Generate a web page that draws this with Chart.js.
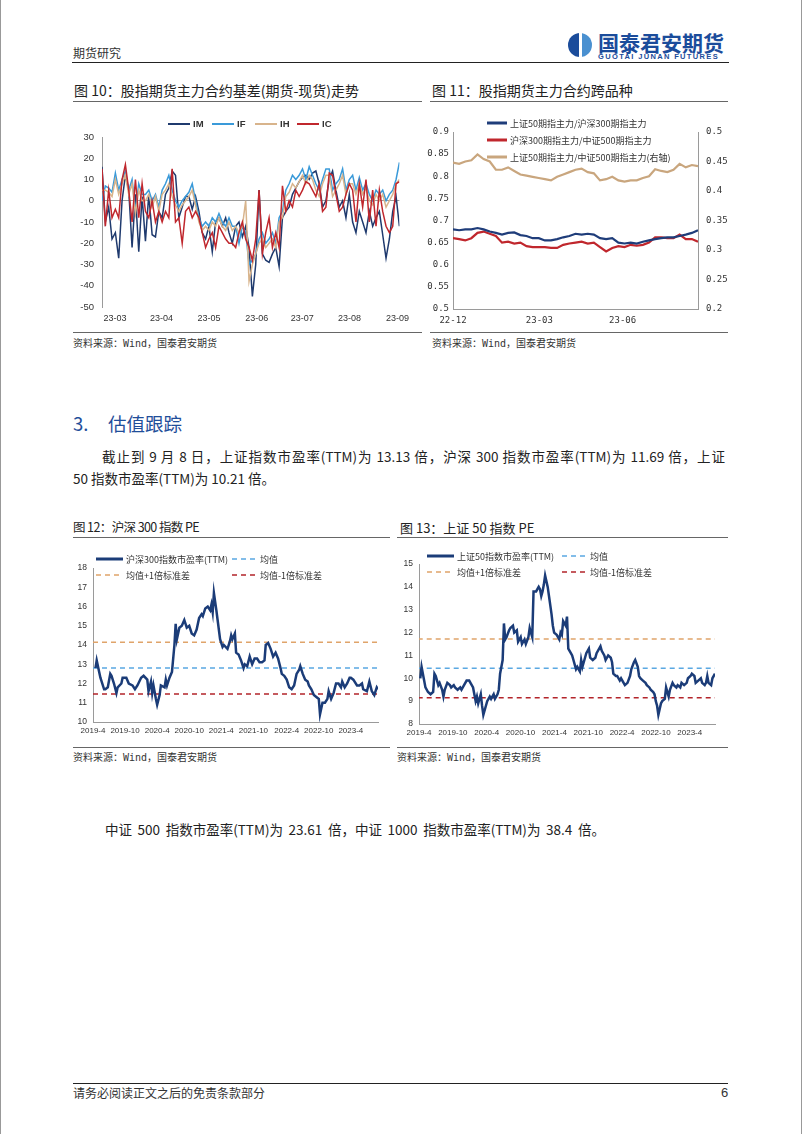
<!DOCTYPE html>
<html>
<head>
<meta charset="utf-8">
<script src="https://cdn.jsdelivr.net/npm/chart.js@4.4.0/dist/chart.umd.min.js"></script>
<style>
    body { margin: 0; background: #fff; }
    #page { position: relative; width: 800px; height: 1134px; overflow: hidden; font-family: "Noto Sans CJK SC", sans-serif; color: #222; border-left: 1px solid #999; border-right: 1px solid #999; }
    .t { position: absolute; white-space: nowrap; line-height: 1; }
    .rule { position: absolute; height: 0; border-top: 1.5px solid #666; }
    canvas { position: absolute; }
    .mono { font-family: "DejaVu Sans Mono", "Noto Sans CJK SC", monospace; }
</style>
</head>
<body>
<div id="page">
    <div class="t" style="left:72px;top:47px;font-size:12px;color:#333;">期货研究</div>
    <div style="position:absolute;left:567px;top:33px;width:24px;height:24px;border-radius:50%;background:linear-gradient(90deg,#1b4c9b 0 44%,#fff 44% 58%,#4a90d0 58%);"></div>
    <div class="t" style="left:597px;top:32px;font-size:21px;font-weight:bold;color:#1b4c9b;">国泰君安期货</div>
    <div class="t" style="left:597px;top:53px;font-size:7.5px;letter-spacing:1.35px;color:#1b4c9b;font-family:'Liberation Sans';font-weight:bold;">GUOTAI JUNAN FUTURES</div>
    <div class="rule" style="left:71px;top:62px;width:657px;border-top:1.5px solid #222;"></div>

    <div class="t" style="left:73px;top:83px;font-size:14px;">图 10：股指期货主力合约基差(期货-现货)走势</div>
    <div class="rule" style="left:72px;top:101px;width:349px;"></div>
    <div class="t" style="left:431px;top:83px;font-size:14px;">图 11：股指期货主力合约跨品种</div>
    <div class="rule" style="left:429px;top:101px;width:298px;"></div>

    <canvas id="basisChart" width="345" height="225" style="left:69px;top:105px;"></canvas>
    <canvas id="spreadChart" width="305" height="225" style="left:424px;top:105px;"></canvas>

    <div class="rule" style="left:72px;top:332px;width:349px;"></div>
    <div class="rule" style="left:429px;top:332px;width:298px;"></div>
    <div class="t mono" style="left:72px;top:339px;font-size:10px;color:#333;">资料来源：Wind，国泰君安期货</div>
    <div class="t mono" style="left:431px;top:339px;font-size:10px;color:#333;">资料来源：Wind，国泰君安期货</div>

    <div class="t" style="left:72px;top:414px;font-size:18.5px;color:#1f4e9a;">3.</div>
    <div class="t" style="left:107px;top:414px;font-size:18.5px;color:#1f4e9a;">估值跟踪</div>
    <div class="t" style="left:101px;top:450px;width:623px;font-size:13.5px;text-align:justify;text-align-last:justify;">截止到 9 月 8 日，上证指数市盈率(TTM)为 13.13 倍，沪深 300 指数市盈率(TTM)为 11.69 倍，上证</div>
    <div class="t" style="left:72px;top:472px;font-size:13.5px;">50 指数市盈率(TTM)为 10.21 倍。</div>

    <div class="t" style="left:72px;top:521px;font-size:12.5px;letter-spacing:-0.6px;">图 12：沪深 300 指数 PE</div>
    <div class="rule" style="left:72px;top:537px;width:317px;"></div>
    <div class="t" style="left:399px;top:521px;font-size:13px;">图 13：上证 50 指数 PE</div>
    <div class="rule" style="left:396px;top:537px;width:331px;"></div>

    <canvas id="pe300Chart" width="320" height="197" style="left:69px;top:548px;"></canvas>
    <canvas id="pe50Chart" width="335" height="197" style="left:394px;top:548px;"></canvas>

    <div class="rule" style="left:72px;top:747px;width:317px;"></div>
    <div class="rule" style="left:396px;top:747px;width:331px;"></div>
    <div class="t mono" style="left:72px;top:753px;font-size:10px;color:#333;">资料来源：Wind，国泰君安期货</div>
    <div class="t mono" style="left:396px;top:753px;font-size:10px;color:#333;">资料来源：Wind，国泰君安期货</div>

    <div class="t" style="left:104px;top:823px;font-size:13.5px;word-spacing:2.6px;">中证 500 指数市盈率(TTM)为 23.61 倍，中证 1000 指数市盈率(TTM)为 38.4 倍。</div>

    <div class="rule" style="left:72px;top:1083px;width:655px;border-top:1.5px solid #222;"></div>
    <div class="t" style="left:72px;top:1087px;font-size:12px;color:#333;">请务必阅读正文之后的免责条款部分</div>
    <div class="t" style="left:720px;top:1086px;font-size:13px;color:#333;font-family:'Liberation Sans';">6</div>
</div>

<script>
// 图10 基差
const basisTickLabels = ['23-03', '23-04', '23-05', '23-06', '23-07', '23-08', '23-09'];
const basisTickPos = [3.9, 17.8, 32, 46.3, 59.9, 74.1, 88.4];
const imData = [16, -10, -3, -18, -15, -27, 0, 12, 5, -22, 3, -24, 2, -19, 3, -16, -17, -5, -8, 3,
    6, 14, 12, -8, -3, 2, 2, -4, 2, -5, -15, -18, -12, -24, -10, -8, -12, -8, -15, -20,
    -12, -10, -17, -12, -22, -45, -30, 5, -25, -28, -29, -25, -22, -31, -8, -5, -3, 3, 6, 9,
    11, 12, 10, 13, 14, 8, -3, 0, 10, 14, 5, -3, 0, -8, 3, -10, -15, -5, -10, -15,
    -5, -12, -8, -5, -16, -27, -18, -5, 2, -12];
const ifData = [0, 7, 6, 4, 13, 5, 10, 14, 5, 10, -5, 8, 3, 3, 5, 0, 3, -3, 5, 8,
    12, 5, 0, -3, 0, 2, 4, 8, 0, -8, -12, -10, -12, -8, -10, -6, -10, -12, -8, -12,
    -12, -20, -12, -15, -30, -28, -25, -18, -15, -20, -18, -15, -20, -8, -5, 5, 8, 12, 10, 12,
    15, 10, 16, 12, 8, 5, 10, 15, 15, 5, 8, 10, 15, 5, 10, 12, 5, 11, 5, 8,
    3, 0, 5, 3, 5, 0, 3, 5, 10, 18];
const ihData = [5, 5, 4, 2, 10, 3, 8, 12, 3, 8, -6, 5, 0, 0, 3, -3, 2, -5, 3, 5,
    8, 2, -2, -5, -2, 0, 2, 5, -2, -10, -14, -12, -14, -10, -12, -8, -12, -14, -10, -14,
    -12, -15, -12, 0, -38, -30, -25, -20, -18, -22, -20, -18, -22, -10, -8, 2, 4, 8, 6, 9,
    12, 8, 12, 10, 5, 2, 8, 12, 12, 2, 5, 8, 12, 3, 8, 8, 3, 8, 3, 6,
    0, -2, 3, 0, 3, -3, 0, 3, 8, 10];
const icData = [15, -12, 5, -8, -4, -8, 10, 17, 5, -10, 10, -8, 8, -5, -8, 0, -10, -5, -10, -5,
    -8, 15, -10, -8, -20, -5, -3, -8, -5, -8, -15, -22, -18, -15, -22, -12, -15, -18, -20, -20,
    -22, -15, -10, -18, -22, -28, -18, 5, -25, -15, -8, -22, -15, -22, 7, -5, 0, -3, 5, 2,
    5, 9, 8, 5, 2, 8, -5, -3, 13, 12, 3, -5, -3, 3, 8, 5, -10, 8, -3, 10,
    -10, 5, -12, 5, -5, -12, -15, -12, 8, 9];

// 图11 跨品种
const spreadTickLabels = ['22-12', '23-03', '23-06'];
const spreadTickPos = [0, 14.1, 27.7];
const sz50ToHs300 = [0.680, 0.678, 0.680, 0.680, 0.683, 0.680, 0.675, 0.672, 0.668, 0.672, 0.673, 0.667, 0.665, 0.660,
    0.660, 0.655, 0.655, 0.658, 0.662, 0.665, 0.670, 0.668, 0.670, 0.668, 0.660, 0.658, 0.660, 0.650,
    0.648, 0.650, 0.648, 0.652, 0.655, 0.658, 0.660, 0.662, 0.662, 0.665, 0.668, 0.672, 0.678];
const hs300ToZz500 = [0.660, 0.658, 0.655, 0.660, 0.672, 0.675, 0.670, 0.665, 0.650, 0.652, 0.648, 0.650, 0.642, 0.640,
    0.640, 0.640, 0.638, 0.638, 0.645, 0.648, 0.650, 0.652, 0.648, 0.650, 0.640, 0.630, 0.638, 0.642,
    0.640, 0.645, 0.643, 0.645, 0.650, 0.662, 0.662, 0.660, 0.660, 0.668, 0.658, 0.658, 0.652];
const sz50ToZz500 = [0.448, 0.446, 0.450, 0.452, 0.462, 0.454, 0.450, 0.436, 0.436, 0.440, 0.434, 0.428, 0.426, 0.424,
    0.422, 0.420, 0.418, 0.424, 0.428, 0.432, 0.436, 0.438, 0.432, 0.430, 0.418, 0.420, 0.424, 0.418,
    0.416, 0.418, 0.418, 0.422, 0.425, 0.437, 0.434, 0.432, 0.436, 0.446, 0.440, 0.444, 0.442];

// 图12/13 PE (x = 自2019-4起的周数)
const peTickLabels = ['2019-4', '2019-10', '2020-4', '2020-10', '2021-4', '2021-10', '2022-4', '2022-10', '2023-4'];
const peWeekRange = [0, 231];

const pe300TickWeeks = [0, 26, 52, 78, 104, 130, 157, 183, 209];
const pe300Weeks = [2, 3, 5, 6, 9, 10, 12, 14, 15, 17, 19, 20, 23, 24, 27, 29, 32, 34, 36, 39,
    41, 44, 45, 47, 48, 49, 51, 52, 54, 55, 58, 59, 60, 62, 64, 66, 67, 68, 70, 72,
    74, 76, 78, 80, 82, 84, 86, 88, 89, 91, 93, 95, 96, 97, 98, 100, 101, 103, 105, 106,
    109, 111, 112, 113, 115, 116, 118, 120, 122, 123, 125, 127, 129, 131, 133, 135, 137, 139, 140, 142,
    144, 146, 148, 150, 152, 153, 155, 157, 159, 161, 163, 165, 167, 168, 170, 172, 174, 175, 177, 179,
    181, 183, 184, 186, 188, 190, 191, 193, 195, 197, 199, 201, 202, 204, 206, 208, 209, 211, 214, 216,
    218, 219, 222, 224, 226, 227, 228, 230, 231];
const pe300Values = [12.8, 13.2, 12.6, 12.3, 11.7, 11.7, 11.8, 12.5, 12.4, 12.0, 11.5, 11.8, 12.0, 12.3, 12.3, 12.0, 11.9, 11.7, 11.9, 12.3,
    12.4, 12.2, 11.6, 12.1, 11.5, 11.9, 11.2, 10.9, 11.4, 11.9, 11.8, 12.2, 11.9, 12.3, 12.6, 14.0, 15.1, 14.3, 14.9, 15.0,
    15.3, 14.9, 15.0, 14.6, 14.5, 14.8, 15.4, 15.6, 15.5, 15.9, 16.0, 15.8, 16.1, 15.7, 16.7, 15.8, 15.3, 14.3, 13.9, 14.0,
    13.8, 14.2, 14.5, 14.3, 14.6, 13.6, 13.5, 13.2, 12.8, 13.0, 12.9, 13.4, 13.0, 13.3, 13.3, 13.1, 13.1, 13.2, 14.0, 14.1,
    13.8, 13.4, 13.6, 13.3, 12.8, 12.5, 12.4, 12.2, 11.8, 11.7, 11.9, 12.5, 12.7, 12.9, 12.5, 12.2, 12.1, 11.9, 11.7, 11.4,
    11.3, 11.2, 10.4, 11.0, 11.0, 11.2, 11.6, 11.2, 11.5, 12.0, 12.0, 11.8, 12.1, 11.8, 12.0, 12.3, 12.3, 12.2, 11.9, 11.9,
    12.0, 11.7, 11.6, 12.1, 11.6, 11.5, 11.4, 11.8, 11.7];
const pe300Mean = 12.8;
const pe300Upper = 14.14;
const pe300Lower = 11.46;

const pe50TickWeeks = [1, 27.3, 53.6, 79.9, 106.2, 132.5, 158.8, 185.1, 211.4];
const pe50Weeks = [2, 3, 5, 6, 8, 10, 12, 13, 14, 16, 17, 19, 20, 21, 23, 25, 26, 28, 29, 31,
    33, 34, 36, 38, 40, 41, 43, 44, 45, 46, 47, 49, 50, 51, 53, 54, 56, 57, 59, 60,
    62, 63, 64, 66, 67, 68, 69, 71, 72, 74, 75, 77, 78, 80, 81, 83, 84, 86, 87, 88,
    89, 90, 92, 94, 95, 96, 97, 98, 99, 101, 102, 103, 104, 105, 106, 108, 110, 111, 112, 113,
    115, 116, 117, 119, 120, 121, 123, 124, 126, 127, 128, 130, 131, 133, 134, 136, 138, 139, 141, 142,
    143, 145, 146, 148, 150, 151, 152, 154, 155, 157, 158, 160, 161, 163, 165, 166, 168, 169, 171, 172,
    173, 175, 177, 178, 180, 181, 183, 184, 185, 186, 187, 189, 190, 192, 193, 195, 196, 198, 199, 201,
    202, 204, 205, 207, 209, 210, 212, 213, 215, 216, 218, 220, 221, 223, 224, 225, 226, 228, 229, 231];
const pe50Values = [10.0, 10.5, 9.9, 9.6, 9.4, 9.3, 9.4, 10.2, 10.1, 9.7, 9.8, 9.5, 9.2, 9.5, 9.8, 9.7, 9.6, 9.7, 9.6, 9.5,
    9.6, 9.5, 9.7, 9.9, 9.9, 9.8, 9.6, 9.3, 9.0, 9.2, 8.9, 9.3, 8.8, 8.4, 8.8, 9.0, 9.2, 9.1, 9.3, 9.1,
    9.3, 9.5, 10.2, 10.8, 12.4, 11.7, 11.8, 12.1, 12.2, 12.3, 12.0, 12.1, 11.6, 11.8, 11.5, 11.7, 11.5, 11.8, 12.2, 12.0,
    11.8, 13.8, 13.8, 14.0, 13.9, 13.6, 13.8, 14.1, 14.5, 14.0, 13.6, 13.2, 12.8, 12.3, 12.0, 11.9, 11.7, 12.0, 11.9, 12.5,
    12.3, 12.7, 11.3, 11.1, 11.0, 10.8, 10.4, 10.5, 10.3, 10.8, 10.5, 10.9, 11.1, 11.3, 10.9, 10.8, 10.9, 11.1, 11.3, 11.4,
    11.2, 11.0, 10.8, 11.0, 10.9, 10.7, 10.2, 10.1, 10.1, 9.9, 10.0, 9.8, 9.7, 9.8, 10.1, 10.4, 10.7, 10.8, 10.5, 10.1,
    10.0, 9.9, 9.8, 9.7, 9.6, 9.5, 9.4, 9.3, 9.0, 8.8, 8.4, 8.9, 9.0, 9.1, 9.6, 9.2, 9.5, 9.8, 9.7, 9.6,
    9.7, 9.6, 9.8, 9.7, 9.8, 10.0, 10.1, 10.2, 10.1, 9.8, 9.9, 10.0, 9.8, 9.7, 9.8, 10.1, 9.8, 9.7, 10.0, 10.2];
const pe50Mean = 10.44;
const pe50Upper = 11.72;
const pe50Lower = 9.15;

Chart.defaults.font.family = "'Liberation Sans', Arial, sans-serif";
Chart.defaults.color = '#333';
Chart.defaults.animation = false;

const cjkFont = "9px 'Noto Sans CJK SC'";

// legend drawn by hand because the reference puts it inside / on top of the plot
const lineLegend = {
    id: 'lineLegend',
    afterDraw(chart, args, opts) {
        const ctx = chart.ctx;
        ctx.save();
        opts.items.forEach(it => {
            const ds = chart.data.datasets[it.ds];
            ctx.strokeStyle = ds.borderColor;
            ctx.lineWidth = it.w || 2;
            ctx.setLineDash(ds.borderDash || []);
            ctx.beginPath();
            ctx.moveTo(it.x, it.y);
            ctx.lineTo(it.x + it.len, it.y);
            ctx.stroke();
            ctx.setLineDash([]);
            ctx.fillStyle = '#333';
            ctx.font = opts.font;
            ctx.textBaseline = 'middle';
            ctx.fillText(ds.label, it.x + it.len + (opts.gap || 3), it.y + 0.5);
        });
        ctx.restore();
    }
};

function fixedTicks(values) {
    return function (scale) {
        scale.ticks = values.map(v => ({ value: v }));
    };
}

function labelFor(values, labels) {
    return v => labels[values.indexOf(v)];
}

function lineSet(label, data, color, width, extra) {
    return Object.assign({
        label: label,
        data: data,
        borderColor: color,
        backgroundColor: color,
        borderWidth: width,
        pointRadius: 0,
        tension: 0,
        fill: false
    }, extra || {});
}

function pts(xs, ys) {
    return xs.map((x, i) => ({ x: x, y: ys[i] }));
}

function flat(y) {
    return [{ x: peWeekRange[0], y: y }, { x: peWeekRange[1], y: y }];
}

// 图10
new Chart(document.getElementById('basisChart'), {
    type: 'line',
    data: {
        datasets: [
            lineSet('IM', pts(imData.map((_, i) => i), imData), '#1f3a6e', 1.5, { order: 3 }),
            lineSet('IF', pts(ifData.map((_, i) => i), ifData), '#3a9ad9', 1.5, { order: 2 }),
            lineSet('IH', pts(ihData.map((_, i) => i), ihData), '#d8b48c', 1.5, { order: 1 }),
            lineSet('IC', pts(icData.map((_, i) => i), icData), '#c0272d', 1.5, { order: 0 })
        ]
    },
    options: {
        responsive: false,
        devicePixelRatio: 1,
        layout: { padding: { left: 0, right: 13, top: 32, bottom: 3 } },
        scales: {
            x: {
                type: 'linear',
                min: 0,
                max: imData.length - 1,
                afterBuildTicks: fixedTicks(basisTickPos),
                afterFit: s => { s.height = 20; },
                grid: { display: false, drawTicks: false },
                border: { display: false },
                ticks: { autoSkip: false, maxRotation: 0, padding: 6, font: { size: 9 }, callback: labelFor(basisTickPos, basisTickLabels) }
            },
            y: {
                min: -50,
                max: 30,
                afterFit: s => { s.width = 32; },
                grid: { drawTicks: false, color: c => (c.tick && c.tick.value === 0 ? '#9a9a9a' : 'rgba(0,0,0,0)') },
                border: { display: true, color: '#9a9a9a' },
                ticks: { stepSize: 10, padding: 8, font: { size: 9.5 } }
            }
        },
        plugins: {
            legend: { display: false },
            tooltip: { enabled: false },
            lineLegend: {
                font: "bold 9.5px 'Liberation Sans'",
                items: [
                    { ds: 0, x: 98, y: 19, len: 22, w: 2 },
                    { ds: 1, x: 142, y: 19, len: 22, w: 2 },
                    { ds: 2, x: 185, y: 19, len: 22, w: 2 },
                    { ds: 3, x: 227, y: 19, len: 22, w: 2 }
                ]
            }
        }
    },
    plugins: [lineLegend]
});

// 图11
const spreadIdx = sz50ToHs300.map((_, i) => i);
new Chart(document.getElementById('spreadChart'), {
    type: 'line',
    data: {
        datasets: [
            lineSet('上证50期指主力/沪深300期指主力', pts(spreadIdx, sz50ToHs300), '#1f3d7a', 2.2),
            lineSet('沪深300期指主力/中证500期指主力', pts(spreadIdx, hs300ToZz500), '#c0272d', 2.2),
            lineSet('上证50期指主力/中证500期指主力(右轴)', pts(spreadIdx, sz50ToZz500), '#c9a67e', 2.2, { yAxisID: 'y2' })
        ]
    },
    options: {
        responsive: false,
        devicePixelRatio: 1,
        layout: { padding: { left: 0, right: 0, top: 27, bottom: 3 } },
        scales: {
            x: {
                type: 'linear',
                min: 0,
                max: spreadIdx.length - 1,
                afterBuildTicks: fixedTicks(spreadTickPos),
                afterFit: s => { s.height = 18; },
                grid: { display: false, drawTicks: false },
                border: { display: true, color: '#9a9a9a' },
                ticks: { autoSkip: false, maxRotation: 0, padding: 6, font: { size: 9, family: "'DejaVu Sans Mono'" }, callback: labelFor(spreadTickPos, spreadTickLabels) }
            },
            y: {
                position: 'left',
                min: 0.5,
                max: 0.9,
                afterFit: s => { s.width = 28; },
                grid: { display: false, drawTicks: false },
                border: { display: true, color: '#9a9a9a' },
                ticks: { stepSize: 0.05, padding: 4, font: { size: 9, family: "'DejaVu Sans Mono'" }, callback: v => String(Math.round(v * 100) / 100) }
            },
            y2: {
                position: 'right',
                min: 0.2,
                max: 0.5,
                afterFit: s => { s.width = 32; },
                grid: { display: false, drawTicks: false },
                border: { display: true, color: '#9a9a9a' },
                ticks: { stepSize: 0.05, padding: 8, font: { size: 9, family: "'DejaVu Sans Mono'" }, callback: v => String(Math.round(v * 100) / 100) }
            }
        },
        plugins: {
            legend: { display: false },
            tooltip: { enabled: false },
            lineLegend: {
                font: cjkFont,
                items: [
                    { ds: 0, x: 62, y: 18, len: 20, w: 3 },
                    { ds: 1, x: 62, y: 35, len: 20, w: 3 },
                    { ds: 2, x: 62, y: 52, len: 20, w: 3 }
                ]
            }
        }
    },
    plugins: [lineLegend]
});

function peChart(id, name, weeks, values, mean, upper, lower, tickWeeks, yMin, yMax, box, legendPos, xMin) {
    return new Chart(document.getElementById(id), {
        type: 'line',
        data: {
            datasets: [
                lineSet(name, pts(weeks, values), '#1b3c78', 2.5),
                lineSet('均值', flat(mean), '#5aa8e2', 1.5, { borderDash: [5, 4] }),
                lineSet('均值+1倍标准差', flat(upper), '#e0a46a', 1.5, { borderDash: [5, 4] }),
                lineSet('均值-1倍标准差', flat(lower), '#b3242a', 1.5, { borderDash: [5, 4] })
            ]
        },
        options: {
            responsive: false,
            devicePixelRatio: 1,
            layout: { padding: { left: 0, right: box.right, top: box.top, bottom: box.bottom } },
            scales: {
                x: {
                    type: 'linear',
                    min: xMin,
                    max: peWeekRange[1],
                    afterBuildTicks: fixedTicks(tickWeeks),
                    afterFit: s => { s.height = box.xh; },
                    grid: { display: false, drawTicks: false },
                    border: { display: true, color: '#9a9a9a' },
                    ticks: { autoSkip: false, maxRotation: 0, padding: 4, font: { size: 8 }, callback: labelFor(tickWeeks, peTickLabels) }
                },
                y: {
                    min: yMin,
                    max: yMax,
                    afterFit: s => { s.width = box.yw; },
                    grid: { display: false, drawTicks: false },
                    border: { display: true, color: '#9a9a9a' },
                    ticks: { stepSize: 1, padding: 6, font: { size: 8.5 } }
                }
            },
            plugins: {
                legend: { display: false },
                tooltip: { enabled: false },
                lineLegend: {
                    font: cjkFont,
                    items: [
                        { ds: 0, x: legendPos[0], y: legendPos[2], len: 27, w: 3 },
                        { ds: 1, x: legendPos[1], y: legendPos[2], len: 25, w: 1.5 },
                        { ds: 2, x: legendPos[0], y: legendPos[3], len: 27, w: 1.5 },
                        { ds: 3, x: legendPos[1], y: legendPos[3], len: 25, w: 1.5 }
                    ]
                }
            }
        },
        plugins: [lineLegend]
    });
}

peChart('pe300Chart', '沪深300指数市盈率(TTM)', pe300Weeks, pe300Values, pe300Mean, pe300Upper, pe300Lower,
    pe300TickWeeks, 10, 18, { right: 12, top: 20, bottom: 3, xh: 20, yw: 23 }, [26, 162, 11, 27], 0);
peChart('pe50Chart', '上证50指数市盈率(TTM)', pe50Weeks, pe50Values, pe50Mean, pe50Upper, pe50Lower,
    pe50TickWeeks, 8, 15, { right: 15, top: 16, bottom: 2, xh: 19, yw: 24 }, [32, 167, 8, 24], 1);
</script>
</body>
</html>
